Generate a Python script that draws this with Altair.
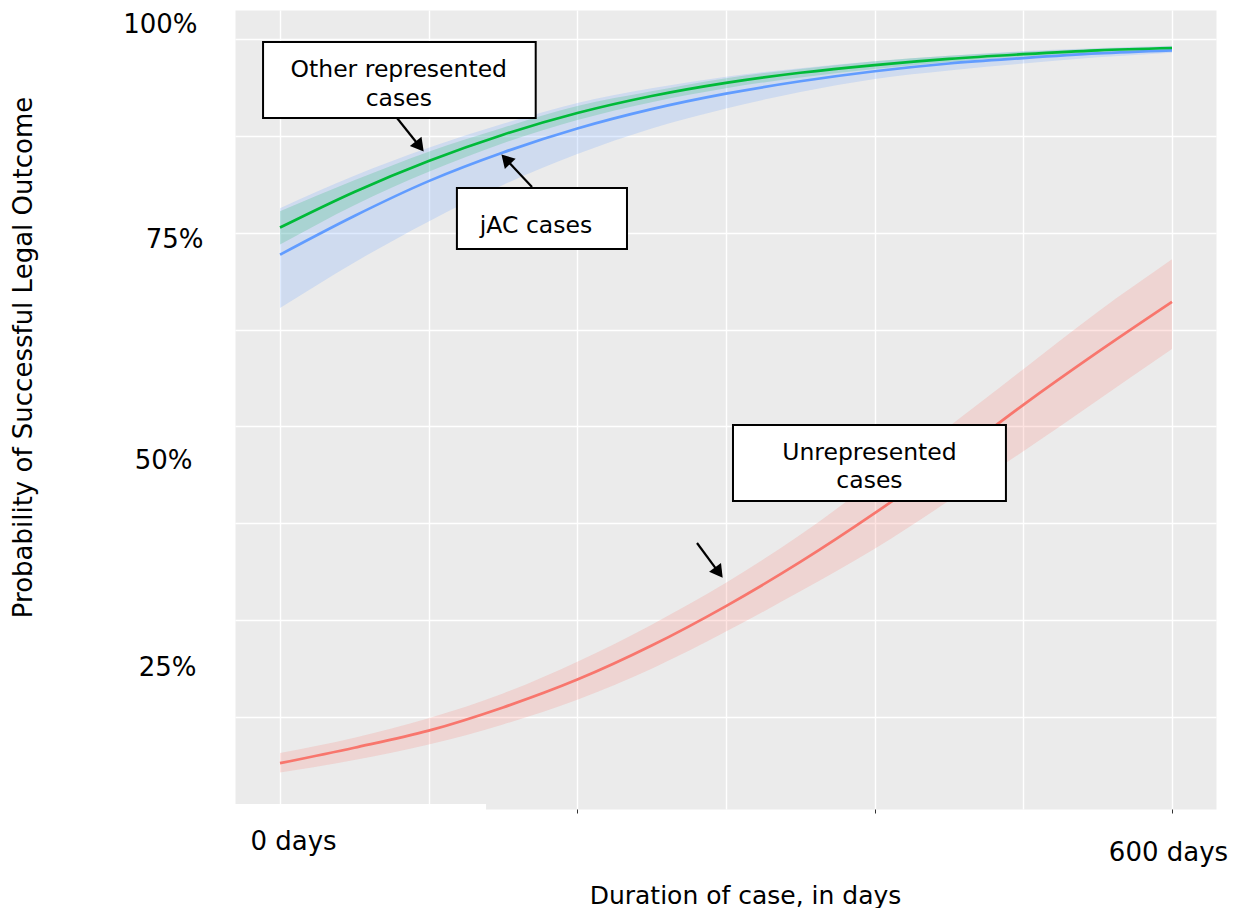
import math
import altair as alt
import pandas as pd

FONT = "DejaVu Sans"

# ---- data ----
days = [0, 50, 100, 150, 200, 250, 300, 350, 400, 450, 500, 550, 600]

jac_fit = [0.722, 0.772, 0.817, 0.854, 0.885, 0.910, 0.930, 0.946, 0.959, 0.969, 0.976, 0.982, 0.986]
jac_lo = [0.653, 0.712, 0.765, 0.812, 0.852, 0.885, 0.911, 0.932, 0.949, 0.960, 0.969, 0.977, 0.983]
jac_hi = [0.782, 0.824, 0.860, 0.891, 0.918, 0.937, 0.952, 0.963, 0.972, 0.979, 0.985, 0.989, 0.992]

oth_fit = [0.757, 0.803, 0.843, 0.877, 0.905, 0.927, 0.944, 0.957, 0.967, 0.975, 0.981, 0.986, 0.989]
oth_lo = [0.735, 0.786, 0.829, 0.866, 0.896, 0.919, 0.937, 0.951, 0.962, 0.971, 0.978, 0.983, 0.987]
oth_hi = [0.778, 0.818, 0.855, 0.886, 0.914, 0.933, 0.950, 0.962, 0.972, 0.979, 0.984, 0.988, 0.991]

unr_fit = [0.065, 0.085, 0.107, 0.137, 0.173, 0.217, 0.268, 0.325, 0.388, 0.456, 0.528, 0.596, 0.661]
unr_lo = [0.053, 0.069, 0.089, 0.115, 0.147, 0.187, 0.235, 0.287, 0.342, 0.404, 0.468, 0.534, 0.600]
unr_hi = [0.078, 0.098, 0.123, 0.155, 0.196, 0.244, 0.298, 0.360, 0.430, 0.500, 0.574, 0.648, 0.716]

groups = ["jAC cases", "Other represented cases", "Unrepresented cases"]
colors = ["#619CFF", "#00BA38", "#F8766D"]

# annotation boxes (data units)
box_x0 = [-11.4, 119.0, 304.7]
box_x1 = [172.0, 233.4, 488.3]
box_y0 = [0.8986, 0.7293, 0.4037]
box_y1 = [0.9968, 0.8081, 0.5020]

ann_text = ["Other represented", "cases", "jAC cases", "Unrepresented", "cases"]
ann_x = [79.9, 79.9, 172.2, 396.5, 396.5]
ann_y = [0.952, 0.914, 0.7504, 0.4567, 0.4202]

# arrows: start -> tip (data units)
arr_x0 = [78.7, 169.5, 280.5]
arr_y0 = [0.8986, 0.8094, 0.3495]
arr_x1 = [96.9, 148.7, 298.0]
arr_y1 = [0.8547, 0.8520, 0.3040]

# white patch covering the lower-left edge (as in the reference image)
patch_x = [-30.27]
patch_x2 = [138.6]
patch_y = [0.0122]
patch_y2 = [-0.012]

XD = [-30.27, 629.6]
YD = [0.0058, 1.0381]
W, H = 981, 799

# ---- build tables ----
rows = []
for g, f, lo, hi in [(groups[0], jac_fit, jac_lo, jac_hi),
                     (groups[1], oth_fit, oth_lo, oth_hi),
                     (groups[2], unr_fit, unr_lo, unr_hi)]:
    for d, a, b, c in zip(days, f, lo, hi):
        rows.append({"group": g, "days": d, "fit": a, "lo": b, "hi": c})
df = pd.DataFrame(rows)

boxes = pd.DataFrame({"x0": box_x0, "x1": box_x1, "y0": box_y0, "y1": box_y1})
texts = pd.DataFrame({"t": ann_text, "x": ann_x, "y": ann_y})


def px(d):
    return (d - XD[0]) / (XD[1] - XD[0]) * W


def py(v):
    return H - (v - YD[0]) / (YD[1] - YD[0]) * H


def ix(p):
    return XD[0] + p / W * (XD[1] - XD[0])


def iy(p):
    return YD[0] + (H - p) / H * (YD[1] - YD[0])


arows = []
HEAD = 7.0
for x0, y0, x1, y1 in zip(arr_x0, arr_y0, arr_x1, arr_y1):
    dx = px(x1) - px(x0)
    dy = py(y1) - py(y0)
    L = math.hypot(dx, dy)
    ux, uy = dx / L, dy / L
    hx = px(x1) - ux * HEAD
    hy = py(y1) - uy * HEAD
    ang = math.degrees(math.atan2(dx, -dy)) % 360
    arows.append({"x0": x0, "y0": y0, "hx": ix(hx), "hy": iy(hy), "ang": ang})
arrows = pd.DataFrame(arows)

patch = pd.DataFrame({"x": patch_x, "x2": patch_x2, "y": patch_y, "y2": patch_y2})

# ---- scales / axes ----
xscale = alt.Scale(domain=XD, nice=False, zero=False)
yscale = alt.Scale(domain=YD, nice=False, zero=False)
cscale = alt.Scale(domain=groups, range=colors)

xaxis = alt.Axis(
    values=[0, 100, 200, 300, 400, 500, 600],
    labelExpr="datum.value == 0 ? '0 days' : (datum.value == 600 ? '600 days' : '')",
    grid=True, gridColor="white", gridWidth=1.4,
    domain=False,
    ticks=True, tickSize=4, tickColor="#333333", tickWidth=1,
    tickOpacity={"condition": {"test": "datum.value % 200 != 0", "value": 0}, "value": 1},
    labelFont=FONT, labelFontSize=26, labelColor="black",
    labelBaseline="alphabetic", labelAlign="center",
    labelPadding={"condition": {"test": "datum.value == 0", "value": 36}, "value": 47},
    labelOffset={"condition": {"test": "datum.value == 0", "value": 13}, "value": -4},
    labelOverlap=False, labelFlush=False,
    title="Duration of case, in days",
    titleFont=FONT, titleFontSize=25, titleFontWeight="normal", titleColor="black",
    titleX=510, titleY=94, titleAlign="center", titleBaseline="alphabetic",
)

yaxis = alt.Axis(
    values=[0.125, 0.25, 0.375, 0.5, 0.625, 0.75, 0.875, 1.0],
    labelExpr="datum.value == 1 ? '100%' : (datum.value == 0.75 ? '75%' : (datum.value == 0.5 ? '50%' : (datum.value == 0.25 ? '25%' : '')))",
    grid=True, gridColor="white", gridWidth=1.4,
    domain=False, ticks=False,
    labelFont=FONT, labelFontSize=26, labelColor="black",
    labelBaseline="middle", labelAlign="right",
    labelOffset={"condition": [
        {"test": "datum.value == 1", "value": -15},
        {"test": "datum.value == 0.75", "value": 7},
        {"test": "datum.value == 0.5", "value": 34},
    ], "value": 48},
    labelPadding={"condition": [
        {"test": "datum.value == 1", "value": 38},
        {"test": "datum.value == 0.75", "value": 32},
        {"test": "datum.value == 0.5", "value": 43},
    ], "value": 39},
    labelOverlap=False, labelFlush=False,
    title="Probability of Successful Legal Outcome",
    titleFont=FONT, titleFontSize=26, titleFontWeight="normal", titleColor="black",
    titleX=-212, titleY=347, titleAngle=270, titleAlign="center", titleBaseline="middle",
)

base = alt.Chart(df)

ribbons_other = base.transform_filter(
    alt.datum.group != groups[0]
).mark_area(opacity=0.2, interpolate="monotone").encode(
    x=alt.X("days:Q", scale=xscale, axis=xaxis),
    y=alt.Y("lo:Q", scale=yscale, axis=yaxis),
    y2="hi:Q",
    color=alt.Color("group:N", scale=cscale, legend=None),
)

ribbons_jac = base.transform_filter(
    alt.datum.group == groups[0]
).mark_area(opacity=0.2, interpolate="monotone").encode(
    x=alt.X("days:Q", scale=xscale),
    y=alt.Y("lo:Q", scale=yscale),
    y2="hi:Q",
    color=alt.Color("group:N", scale=cscale, legend=None),
)

lines = base.mark_line(strokeWidth=2.7, interpolate="monotone").encode(
    x=alt.X("days:Q", scale=xscale),
    y=alt.Y("fit:Q", scale=yscale),
    color=alt.Color("group:N", scale=cscale, legend=None),
)

patch_layer = alt.Chart(patch).mark_rect(fill="white", clip=False).encode(
    x=alt.X("x:Q", scale=xscale), x2="x2:Q",
    y=alt.Y("y:Q", scale=yscale), y2="y2:Q",
)

box_layer = alt.Chart(boxes).mark_rect(fill="white", stroke="black", strokeWidth=2).encode(
    x=alt.X("x0:Q", scale=xscale), x2="x1:Q",
    y=alt.Y("y0:Q", scale=yscale), y2="y1:Q",
)

text_layer = alt.Chart(texts).mark_text(
    font=FONT, fontSize=23.5, color="black", align="center", baseline="alphabetic"
).encode(
    x=alt.X("x:Q", scale=xscale),
    y=alt.Y("y:Q", scale=yscale),
    text="t:N",
)

shafts = alt.Chart(arrows).mark_rule(color="black", strokeWidth=2.2).encode(
    x=alt.X("x0:Q", scale=xscale), x2="hx:Q",
    y=alt.Y("y0:Q", scale=yscale), y2="hy:Q",
)

heads = alt.Chart(arrows).mark_point(
    shape="triangle-up", filled=True, color="black", opacity=1, size=220
).encode(
    x=alt.X("hx:Q", scale=xscale),
    y=alt.Y("hy:Q", scale=yscale),
    angle=alt.Angle("ang:Q", scale=None),
)

chart = alt.layer(
    ribbons_other, ribbons_jac, lines, patch_layer, box_layer, text_layer, shafts, heads
).properties(
    width=W, height=H,
    autosize=alt.AutoSizeParams(type="none"),
    padding={"left": 227, "top": 2, "right": 12, "bottom": 99},
    background="white",
).configure_view(
    fill="#EBEBEB", stroke="transparent"
)

chart.save("out.html", embed_options={"renderer": "svg", "actions": False})
